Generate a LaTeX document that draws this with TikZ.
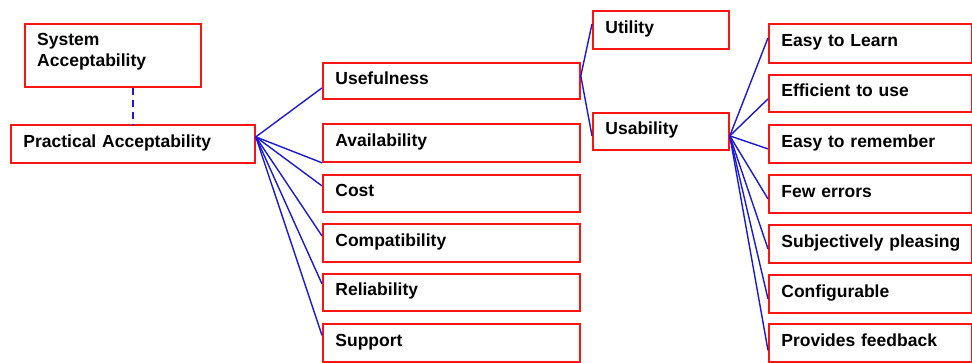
\documentclass[tikz,border=0pt]{standalone}
\usepackage{fontspec}
\setmainfont{Liberation Sans}
\usetikzlibrary{calc}
\definecolor{boxred}{RGB}{250,20,20}
\definecolor{linkblue}{RGB}{25,25,215}
\begin{document}
\begin{tikzpicture}[x=1pt,y=-1pt,
  boxfont/.style={font=\bfseries\fontsize{17.5}{20.5}\selectfont},
  basebox/.style={draw=boxred, line width=1.8pt, fill=white, rectangle, anchor=north west,
    inner xsep=12.5pt, inner ysep=0pt, align=left, boxfont,
    execute at begin node={\hyphenpenalty=10000\exhyphenpenalty=10000}},
  box/.style={basebox, text height=12.5pt, text depth=6pt},
  plaintext/.style={boxfont, inner sep=0pt, anchor=base west},
  link/.style={draw=linkblue, line width=1.4pt},
  dlink/.style={link, line width=1.8pt, dash pattern=on 7pt off 5pt}]
\useasboundingbox (0,0) rectangle (972,363);

% left
\node[basebox, minimum width=176pt, minimum height=63pt] (sys) at (24,23) {};
\node[plaintext] (sysa) at ($(sys.north west)+(13,23)$) {System};
\node[plaintext] (sysb) at ($(sys.north west)+(13,43.5)$) {Acceptability};
\node[box, minimum width=244pt, minimum height=38pt, text width=219pt] (pa) at (10,124) {Practical Acceptability};

% middle column
\node[box, minimum width=257pt, minimum height=36pt, text width=232pt] (use) at (322,62) {Usefulness};
\node[box, minimum width=257pt, minimum height=38pt, text width=232pt] (avl) at (322,123) {Availability};
\node[box, minimum width=257pt, minimum height=37pt, text width=232pt] (cost) at (322,174) {Cost};
\node[box, minimum width=257pt, minimum height=38pt, text width=232pt] (comp) at (322,223) {Compatibility};
\node[box, minimum width=257pt, minimum height=37pt, text width=232pt] (rel) at (322,273) {Reliability};
\node[box, minimum width=257pt, minimum height=38pt, text width=232pt] (sup) at (322,323) {Support};

% utility / usability
\node[box, minimum width=136pt, minimum height=38pt, text width=111pt] (utl) at (592,10) {Utility};
\node[box, minimum width=136pt, minimum height=37pt, text width=111pt] (usa) at (592,112) {Usability};

% right column
\node[box, minimum width=203pt, minimum height=39pt, text width=178pt] (e1) at (768,23) {Easy to Learn};
\node[box, minimum width=203pt, minimum height=37pt, text width=178pt] (e2) at (768,74) {Efficient to use};
\node[box, minimum width=203pt, minimum height=38pt, text width=178pt] (e3) at (768,124) {Easy to remember};
\node[box, minimum width=203pt, minimum height=38pt, text width=178pt] (e4) at (768,174) {Few errors};
\node[box, minimum width=203pt, minimum height=38pt, text width=178pt] (e5) at (768,224) {\mbox{Subjectively pleasing}};
\node[box, minimum width=203pt, minimum height=38pt, text width=178pt] (e6) at (768,274) {Configurable};
\node[box, minimum width=203pt, minimum height=38pt, text width=178pt] (e7) at (768,323) {Provides feedback};

% connectors
\draw[dlink] ($(sys.south)+(20,0)$) -- (pa.north);

\coordinate (paout) at ($(pa.east)+(0,-7)$);
\draw[link] (paout) -- ($(use.west)+(0,7)$);
\draw[link] (paout) -- (avl.south west);
\draw[link] (paout) -- ($(cost.west)+(0,-7.5)$);
\draw[link] (paout) -- ($(comp.west)+(0,-7)$);
\draw[link] (paout) -- ($(rel.west)+(0,-8.5)$);
\draw[link] (paout) -- ($(sup.west)+(0,-7.5)$);

\coordinate (useout) at ($(use.east)+(0,-5)$);
\draw[link] (useout) -- ($(utl.west)+(0,-6)$);
\draw[link] (useout) -- ($(usa.west)+(0,4.5)$);

\coordinate (usaout) at ($(usa.east)+(0,4.5)$);
\draw[link] (usaout) -- ($(e1.west)+(0,-5.5)$);
\draw[link] (usaout) -- ($(e2.west)+(0,5.5)$);
\draw[link] (usaout) -- ($(e3.west)+(0,5)$);
\draw[link] (usaout) -- ($(e4.west)+(0,5)$);
\draw[link] (usaout) -- ($(e5.west)+(0,5)$);
\draw[link] (usaout) -- ($(e6.west)+(0,5)$);
\draw[link] (usaout) -- ($(e7.west)+(0,7.5)$);
\end{tikzpicture}
\end{document}
